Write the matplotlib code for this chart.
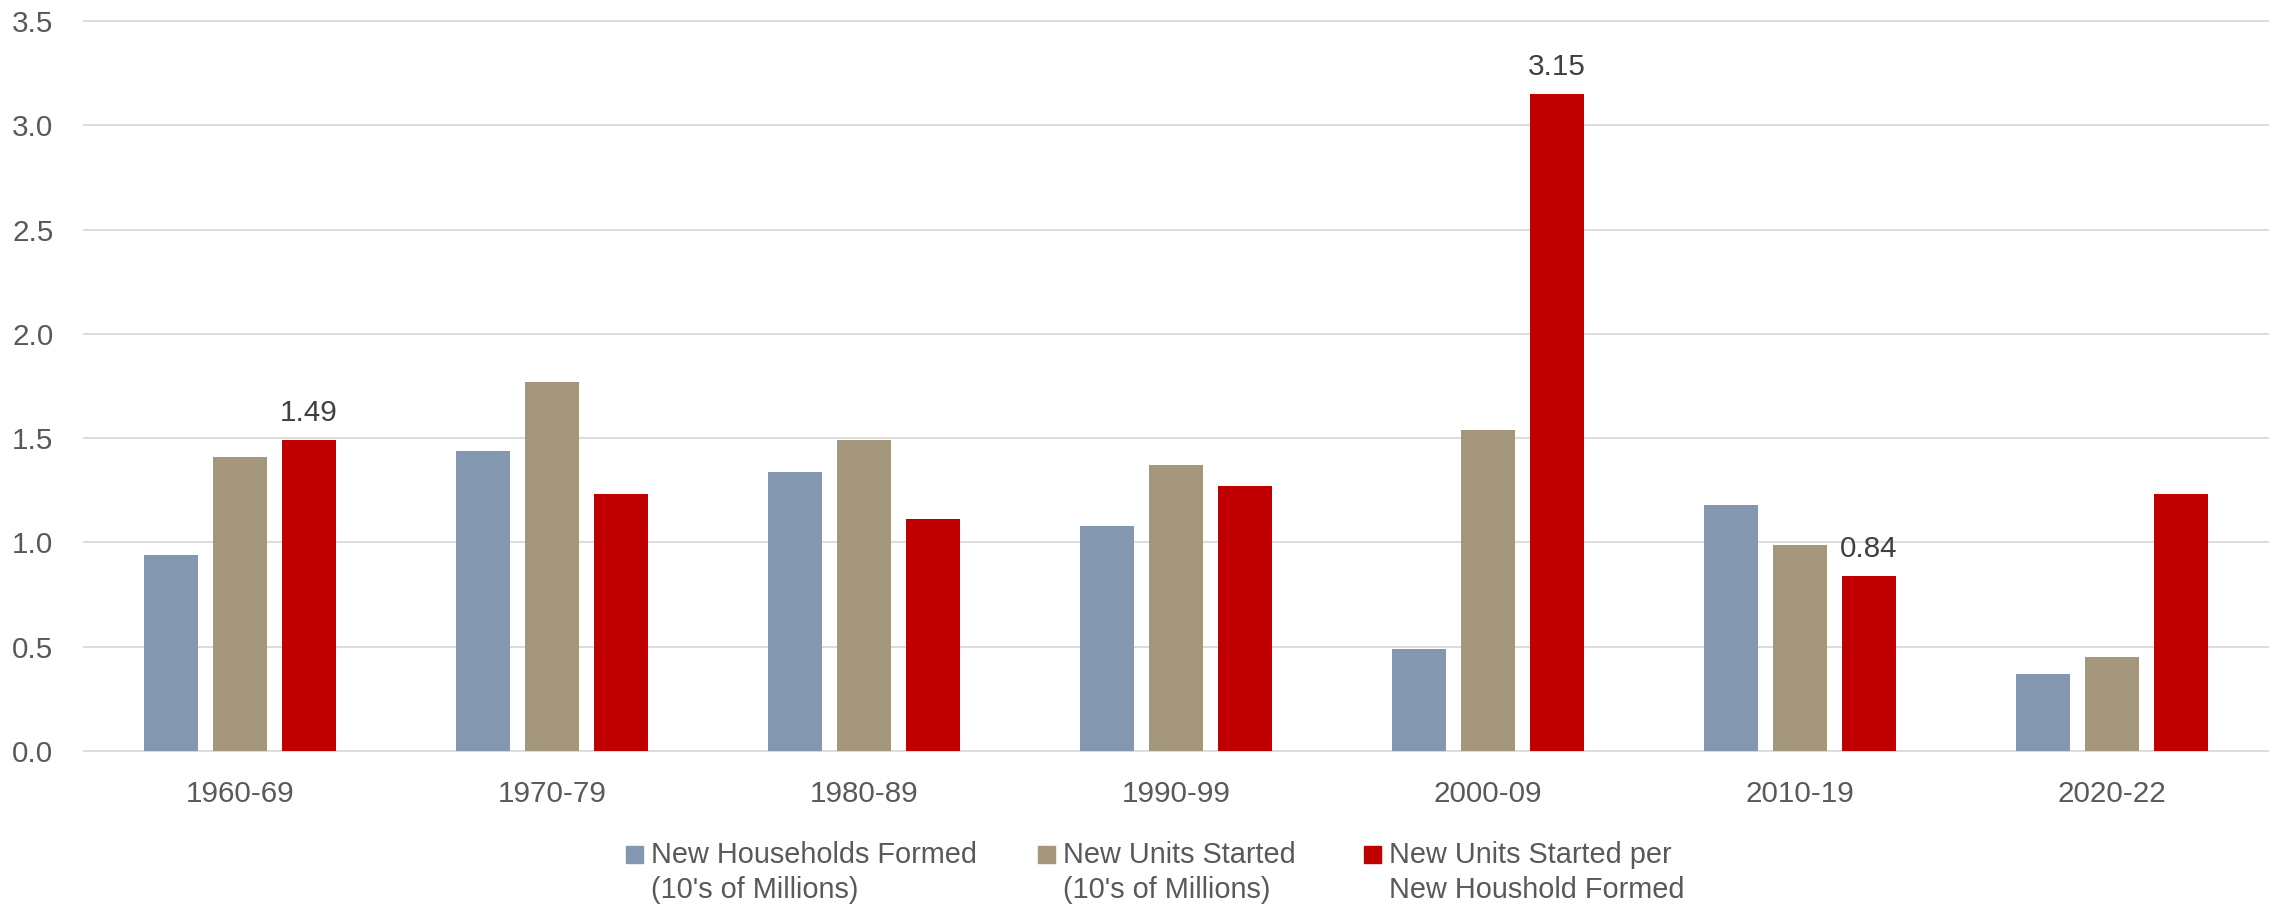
import numpy as np
import matplotlib.pyplot as plt
from matplotlib.patches import Rectangle

plt.rcParams['font.family'] = ['Liberation Sans', 'DejaVu Sans']

# decade buckets and series (tens of millions / ratio)
periods = ['1960-69', '1970-79', '1980-89', '1990-99', '2000-09', '2010-19', '2020-22']
households = [0.94, 1.44, 1.34, 1.08, 0.49, 1.18, 0.37]
units = [1.41, 1.77, 1.49, 1.37, 1.54, 0.99, 0.45]
ratio = [1.49, 1.23, 1.11, 1.27, 3.15, 0.84, 1.23]
labelled = [0, 4, 5]   # ratio bars that get a value label

series_names = ['New Households Formed\n(10\'s of Millions)',
                'New Units Started\n(10\'s of Millions)',
                'New Units Started per\nNew Houshold Formed']
colors = ['#8497B0', '#A5977B', '#C00000']
txt = '#595959'
fs = 21.3

W, H = 2282, 911
fig = plt.figure(figsize=(W / 100, H / 100), dpi=100)
ax = fig.add_axes([84 / W, 1 - 751 / H, 2184 / W, 730 / H])

x = np.arange(len(periods))
step = 0.221
bw = 0.173
for k, vals in enumerate([households, units, ratio]):
    ax.bar(x + (k - 1) * step, vals, bw, color=colors[k], linewidth=0, zorder=3)

for i in labelled:
    ax.annotate(f'{ratio[i]:.2f}', (x[i] + step, ratio[i]), xytext=(0, 9.5),
                textcoords='offset points', ha='center', va='bottom',
                fontsize=fs, color='#404040')

ax.set_xlim(-0.5, len(periods) - 0.5)
ax.set_ylim(0, 3.5)
ax.set_yticks(np.arange(0, 3.51, 0.5))
ax.set_yticklabels([f'{v:.1f}' for v in np.arange(0, 3.51, 0.5)])
ax.set_xticks(x)
ax.set_xticklabels(periods)
ax.tick_params(axis='both', length=0, labelsize=fs, labelcolor=txt)
ax.tick_params(axis='x', pad=21)
ax.tick_params(axis='y', pad=22)
ax.grid(axis='y', color='#D9D9D9', linewidth=1.3, zorder=0)
ax.set_axisbelow(True)
for s in ax.spines.values():
    s.set_visible(False)
for g in ax.get_ygridlines():
    g.set_clip_on(False)

# legend: square marker beside the first line of each two-line label
leg_x = [626, 1038, 1364]
for k in range(3):
    fig.patches.append(Rectangle((leg_x[k] / W, 1 - 863 / H), 17 / W, 17 / H,
                                 transform=fig.transFigure, color=colors[k]))
    first, second = series_names[k].split('\n')
    fig.text((leg_x[k] + 25) / W, 1 - 863 / H, first, fontsize=fs - 0.5, color=txt,
             va='baseline', ha='left')
    fig.text((leg_x[k] + 25) / W, 1 - 898 / H, second, fontsize=fs - 0.5, color=txt,
             va='baseline', ha='left')

fig.savefig('out.png', dpi=100, facecolor='white')
